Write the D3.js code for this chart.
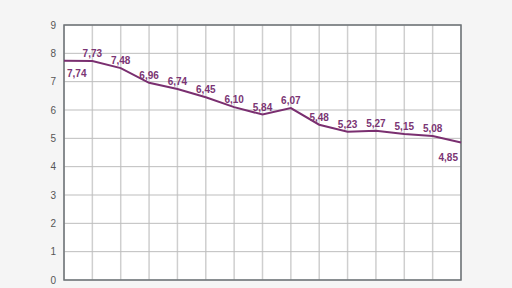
<!DOCTYPE html>
<html lang="en">
  <head>
    <meta charset="UTF-8" />
    <title>Line chart</title>
    <script src="https://d3js.org/d3.v7.min.js"></script>
    <style>
      html,
      body {
        margin: 0;
        padding: 0;
        background: #f5f5f5;
      }
      svg {
        display: block;
        font-family: "Liberation Sans", Arial, sans-serif;
      }
      .tick-label {
        font-size: 10px;
        fill: #555;
      }
      .value-label {
        font-size: 10px;
        font-weight: bold;
        fill: #7b3574;
      }
    </style>
  </head>
  <body>
    <svg id="chart" width="512" height="288"></svg>

    <script>
      const values = [
        7.74, 7.73, 7.48, 6.96, 6.74, 6.45, 6.1, 5.84, 6.07, 5.48, 5.23, 5.27,
        5.15, 5.08, 4.85,
      ];
      const yTicks = [0, 1, 2, 3, 4, 5, 6, 7, 8, 9];

      const svg = d3.select("#chart");
      const margin = { top: 25, right: 51, bottom: 8, left: 64 };
      const width = +svg.attr("width") - margin.left - margin.right;
      const height = +svg.attr("height") - margin.top - margin.bottom;
      const g = svg
        .append("g")
        .attr("transform", `translate(${margin.left},${margin.top})`);

      const x = d3
        .scaleLinear()
        .domain([0, values.length - 1])
        .range([0, width]);
      const y = d3.scaleLinear().domain([0, 9]).range([height, 0]);

      g.append("rect")
        .attr("width", width)
        .attr("height", height)
        .attr("fill", "#fff");

      // vertical grid
      g.selectAll(".vgrid")
        .data(d3.range(values.length))
        .join("line")
        .attr("x1", (d) => x(d))
        .attr("x2", (d) => x(d))
        .attr("y1", 0)
        .attr("y2", height)
        .attr("stroke", "#cfcfcf")
        .attr("stroke-width", 1.5);

      // horizontal grid
      g.selectAll(".hgrid")
        .data(yTicks)
        .join("line")
        .attr("x1", 0)
        .attr("x2", width)
        .attr("y1", (d) => y(d))
        .attr("y2", (d) => y(d))
        .attr("stroke", "#bdbdbd")
        .attr("stroke-width", 1);

      // frame
      g.append("rect")
        .attr("width", width)
        .attr("height", height)
        .attr("fill", "none")
        .attr("stroke", "#6d7377")
        .attr("stroke-width", 1.5);

      // y tick labels
      g.selectAll(".tick-label")
        .data(yTicks)
        .join("text")
        .attr("class", "tick-label")
        .attr("x", -8)
        .attr("y", (d) => y(d))
        .attr("dy", "0.35em")
        .attr("text-anchor", "end")
        .text((d) => d);

      const line = d3
        .line()
        .x((d, i) => x(i))
        .y((d) => y(d));

      g.append("path")
        .datum(values)
        .attr("fill", "none")
        .attr("stroke", "#7a2f70")
        .attr("stroke-width", 2)
        .attr("d", line);

      const fmt = (v) => v.toFixed(2).replace(".", ",");
      const last = values.length - 1;

      g.selectAll(".value-label")
        .data(values)
        .join("text")
        .attr("class", "value-label")
        .attr("x", (d, i) => (i === 0 ? x(i) + 3 : i === last ? x(i) - 3 : x(i)))
        .attr("y", (d, i) =>
          i === 0 ? y(d) + 16 : i === last ? y(d) + 18 : y(d) - 4
        )
        .attr("text-anchor", (d, i) =>
          i === 0 ? "start" : i === last ? "end" : "middle"
        )
        .text((d) => fmt(d));
    </script>
  </body>
</html>
